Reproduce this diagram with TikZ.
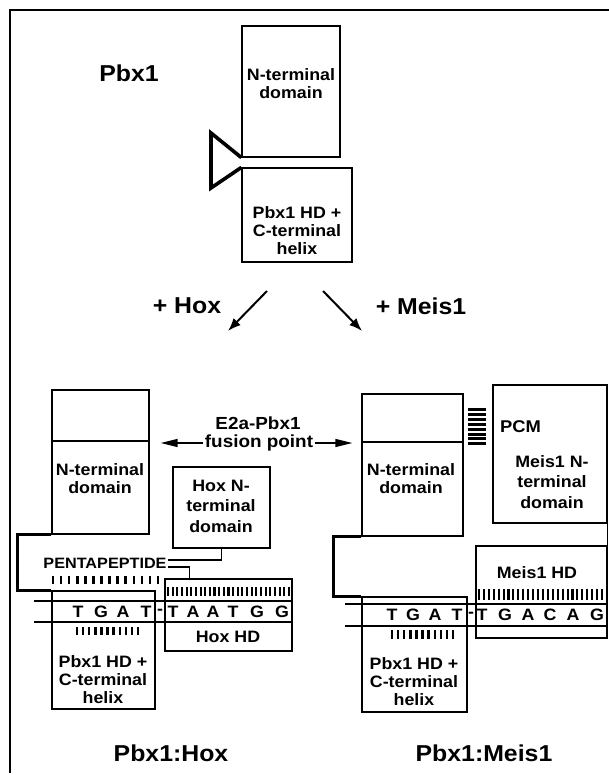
\documentclass[tikz,border=0pt]{standalone}
\usepackage{fontspec}
\setmainfont{Liberation Sans}[FakeStretch=1.08]
\usetikzlibrary{arrows.meta,positioning}

\begin{document}
\begin{tikzpicture}[x=1pt,y=-1pt,every node/.style={inner sep=0pt},
  box/.style={rectangle,draw,line width=1.2pt},
  txt/.style={align=center,font=\fontsize{16.5}{18}\selectfont\bfseries},
  txtw/.style={align=center,font=\fontsize{16.5}{20.5}\selectfont\bfseries},
  big/.style={font=\fontsize{23}{26}\selectfont\bfseries},
  base/.style={font=\fontsize{16.5}{18}\selectfont\bfseries},
  linker/.style={line width=2.6pt,line join=miter},
  thinlink/.style={line width=1.2pt},
  bigarrow/.style={-{Latex[length=13pt,width=10pt]},line width=2pt},
  fusarrow/.style={-{Triangle[length=17pt,width=8pt]},line width=1.4pt}]
  \useasboundingbox (0,0) rectangle (609,775);
  \draw[line width=1.3pt] (609,10) -- (10,10) -- (10,773);
  % Pbx1 alone
  \node[big] (pbx) at (129,73) {Pbx1};
  \node[box,minimum width=98pt,minimum height=131pt] (topN) at (291,91.5) {};
  \node[box,minimum width=110pt,minimum height=94pt] (topHD) at (297,215) {};
  \node[txt] (topNt) at (291,84) {N-terminal\\domain};
  \node[txt] (topHDt) at (297,231) {Pbx1 HD +\\C-terminal\\helix};
  \draw[line width=3.6pt,line join=miter] (topN.south west) -- (211,133) -- (211,188) -- (topHD.north west);
  \node[big] (plushox) at (187,306) {+ Hox};
  \node[big] (plusmeis) at (421,306) {+ Meis1};
  \coordinate (hoxfrom) at (267,291); \coordinate (hoxto) at (228,331);
  \coordinate (meisfrom) at (323,291); \coordinate (meisto) at (362,331);
  \draw[bigarrow] (hoxfrom) -- (hoxto);
  \draw[bigarrow] (meisfrom) -- (meisto);
  % fusion point
  \node[font=\fontsize{17.5}{20}\selectfont\bfseries] (e2a) at (258,423) {E2a-Pbx1};
  \node[font=\fontsize{17.5}{20}\selectfont\bfseries,inner sep=2pt] (fpt) at (259,443) {fusion point};
  % Pbx1:Hox
  \node[box,minimum width=97pt,minimum height=144pt] (nL) at (100.5,462) {};
  \draw[line width=1.2pt] (nL.west |- 0,441) -- (nL.east |- 0,441);
  \node[txt] (nLt) at (100,479) {N-terminal\\domain};
  \node[box,minimum width=97pt,minimum height=81pt] (hoxN) at (221.5,507.5) {};
  \node[txtw] (hoxNt) at (221,506) {Hox N-\\terminal\\domain};
  \node[font=\fontsize{15}{18}\selectfont\bfseries,inner sep=1pt] (penta) at (105,563.5) {PENTAPEPTIDE};
  \draw[line width=1.2pt] (34,601) -- (292,601);
  \draw[line width=1.2pt] (34,622) -- (292,622);
  \node[box,minimum width=103pt,minimum height=118pt] (hdL) at (103.5,650) {};
  \node[box,minimum width=127pt,minimum height=72pt] (hoxHD) at (228.5,615) {};
  \node[txt] (hdLt) at (103,680) {Pbx1 HD +\\C-terminal\\helix};
  \node[base] (hoxHDt) at (228,637) {Hox HD};
  \foreach \x/\l in {78/T,101/G,123/A,146/T,160/-,173/T,193/A,213/A,233/T,257/G,282/G}
    \node[base] at (\x,611.5) {\l};
  \foreach \i in {0,...,13} \draw[line width=2.6pt] (53+\i*8.08,576) -- (53+\i*8.08,584);
  \foreach \i in {0,...,26} \draw[line width=2.1pt] (168+\i*4.65,587) -- (168+\i*4.65,596);
  \foreach \i in {0,...,10} \draw[line width=2.4pt] (77+\i*6.1,627) -- (77+\i*6.1,635);
  \draw[linker] (nL.south west) -- ++(-34,0) |- (hdL.north west);
  \draw[thinlink] ([yshift=3.5pt]penta.east) -| (hoxN.south);
  \draw[thinlink] ([yshift=-3.5pt]penta.east) -| ([xshift=25pt]hoxHD.north west);
  \node[big] (labhox) at (171,753) {Pbx1:Hox};
  % Pbx1:Meis1
  \node[box,minimum width=101pt,minimum height=142pt] (nR) at (412.5,465) {};
  \draw[line width=1.2pt] (nR.west |- 0,442) -- (nR.east |- 0,442);
  \node[txt] (nRt) at (411,479) {N-terminal\\domain};
  \node[box,minimum width=114pt,minimum height=138pt] (meisN) at (550,454) {};
  \node[font=\fontsize{17}{18}\selectfont\bfseries,anchor=west] (pcm) at (500,427) {PCM};
  \node[txtw] (meisNt) at (552,482) {Meis1 N-\\terminal\\domain};
  \foreach \i in {0,...,7} \draw[line width=3pt] (468,409.5+\i*4.9) -- (486,409.5+\i*4.9);
  \node[box,minimum width=131pt,minimum height=92pt] (meisHD) at (541.5,592) {};
  \draw[line width=1.2pt] (meisN.south east) -- (meisHD.north east);
  \node[base] (meisHDt) at (537,573) {Meis1 HD};
  \draw[line width=1.2pt] (345,604) -- (607,604);
  \draw[line width=1.2pt] (345,626) -- (607,626);
  \node[box,minimum width=105pt,minimum height=115pt] (hdR) at (414.5,654.5) {};
  \node[txt] (hdRt) at (414,682) {Pbx1 HD +\\C-terminal\\helix};
  \foreach \x/\l in {392/T,413/G,435/A,457/T,471/-,482/T,505/G,528/A,550/C,573/A,597/G}
    \node[base] at (\x,615) {\l};
  \foreach \i in {0,...,25} \draw[line width=2.1pt] (479+\i*4.92,589) -- (479+\i*4.92,600);
  \foreach \i in {0,...,10} \draw[line width=2.4pt] (392+\i*6.1,630) -- (392+\i*6.1,639);
  \draw[linker] (nR.south west) -- ++(-28,0) |- (hdR.north west);
  \node[big] (labmeis) at (484,753) {Pbx1:Meis1};
  % fusion arrows
  \draw[fusarrow,shorten >=11pt] (fpt.west) -- (nL.east |- fpt.west);
  \draw[fusarrow,shorten >=9pt] (fpt.east) -- (nR.west |- fpt.east);
\end{tikzpicture}
\end{document}
